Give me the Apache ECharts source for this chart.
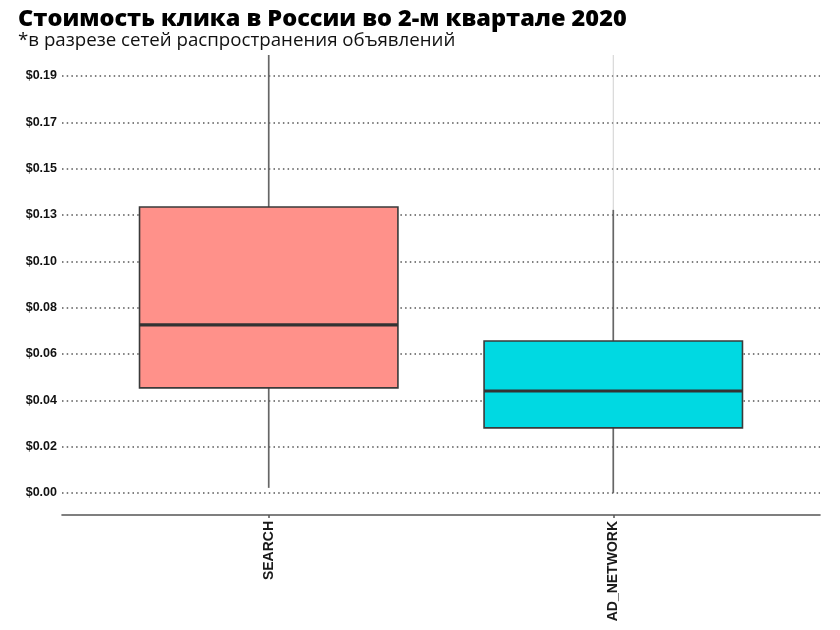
<!DOCTYPE html>
<html>
<head>
<meta charset="utf-8">
<script src="https://cdn.jsdelivr.net/npm/echarts@6/dist/echarts.min.js"></script>
<style>
  html, body { margin: 0; padding: 0; background: #fff; }
  #chart { width: 840px; height: 630px; }
</style>
</head>
<body>
<div id="chart"></div>
<script>
// categories and box stats
var categories = ['SEARCH', 'AD_NETWORK'];
var whiskerLow  = [0.0023, 0.0000];
var q1          = [0.0476, 0.0295];
var median      = [0.0762, 0.0462];
var q3          = [0.1296, 0.0689];
var whiskerHigh = [0.2100, 0.1283];
var outlierTop  = [null, 0.2100];   // faint outlier streak above AD_NETWORK
var boxColors   = ['#FF918A', '#00D9E2'];

// y tick positions and their printed labels
var yTicks = [0, 0.021, 0.042, 0.063, 0.084, 0.105, 0.126, 0.147, 0.168, 0.189];
var yTickLabels = ['$0.00', '$0.02', '$0.04', '$0.06', '$0.08', '$0.10', '$0.13', '$0.15', '$0.17', '$0.19'];

window.onload = function () {
   var chart = echarts.init(document.getElementById('chart'));

   var boxData = categories.map(function (c, i) {
      return [i + 1, whiskerLow[i], q1[i], median[i], q3[i], whiskerHigh[i], outlierTop[i] == null ? NaN : outlierTop[i], i];
   });

   function renderBox(params, api) {
      var x = api.value(0);
      var halfW = api.size([0.75, 0])[0] / 2;
      var pLow = api.coord([x, api.value(1)]);
      var pQ1 = api.coord([x, api.value(2)]);
      var pMed = api.coord([x, api.value(3)]);
      var pQ3 = api.coord([x, api.value(4)]);
      var pHigh = api.coord([x, api.value(5)]);
      var out = api.value(6);
      var idx = api.value(7);
      var children = [];
      if (!isNaN(out)) {
         var pOut = api.coord([x, out]);
         children.push({
            type: 'line',
            shape: { x1: pHigh[0], y1: pHigh[1], x2: pOut[0], y2: pOut[1] },
            style: { stroke: '#d0d0d0', lineWidth: 1 }
         });
      }
      children.push({
         type: 'line',
         shape: { x1: pHigh[0], y1: pHigh[1], x2: pQ3[0], y2: pQ3[1] },
         style: { stroke: '#666', lineWidth: 1.7 }
      });
      children.push({
         type: 'line',
         shape: { x1: pQ1[0], y1: pQ1[1], x2: pLow[0], y2: pLow[1] },
         style: { stroke: '#666', lineWidth: 1.7 }
      });
      children.push({
         type: 'rect',
         shape: { x: pQ3[0] - halfW, y: pQ3[1], width: halfW * 2, height: pQ1[1] - pQ3[1] },
         style: { fill: boxColors[idx], stroke: '#3a3a3a', lineWidth: 1.6 }
      });
      children.push({
         type: 'line',
         shape: { x1: pMed[0] - halfW, y1: pMed[1], x2: pMed[0] + halfW, y2: pMed[1] },
         style: { stroke: '#333', lineWidth: 3.2 }
      });
      return { type: 'group', children: children };
   }

   var option = {
      animation: false,
      backgroundColor: '#fff',
      title: {
         text: 'Стоимость клика в России во 2-м квартале 2020',
         subtext: '*в разрезе сетей распространения объявлений',
         left: 13,
         top: 2,
         itemGap: 0,
         textStyle: { fontFamily: 'Open Sans', fontWeight: 800, fontSize: 23.5, color: '#000' },
         subtextStyle: { fontFamily: 'Open Sans', fontSize: 18.7, color: '#111' }
      },
      grid: { left: 62, right: 20, top: 55, bottom: 115 },
      xAxis: {
         type: 'value',
         min: 0.4,
         max: 2.6,
         axisLine: { show: true, onZero: false, lineStyle: { color: '#555', width: 1.6 } },
         axisTick: { show: true, length: 3, customValues: [1, 2], lineStyle: { color: '#555', width: 1.5 } },
         splitLine: { show: false },
         axisLabel: {
            customValues: [1, 2],
            rotate: 90,
            margin: 6,
            fontFamily: 'Liberation Sans',
            fontWeight: 'bold',
            fontSize: 14,
            color: '#1a1a1a',
            formatter: function (v) { return categories[Math.round(v) - 1]; }
         }
      },
      yAxis: {
         type: 'value',
         min: -0.01,
         max: 0.1985,
         axisLine: { show: false },
         axisTick: { show: false, customValues: yTicks },
         splitLine: { show: true, lineStyle: { color: '#555', width: 1.5, type: [1.5, 3.2] } },
         axisLabel: {
            customValues: yTicks,
            margin: 5,
            fontFamily: 'Liberation Sans',
            fontWeight: 'bold',
            fontSize: 12.5,
            color: '#111',
            formatter: function (v) {
               var k = yTicks.findIndex(function (t) { return Math.abs(t - v) < 1e-9; });
               return k >= 0 ? yTickLabels[k] : '';
            }
         }
      },
      series: [{
         type: 'custom',
         clip: true,
         renderItem: renderBox,
         encode: { x: 0, y: [1, 2, 3, 4, 5] },
         data: boxData
      }]
   };
   chart.setOption(option);
};
</script>
</body>
</html>
